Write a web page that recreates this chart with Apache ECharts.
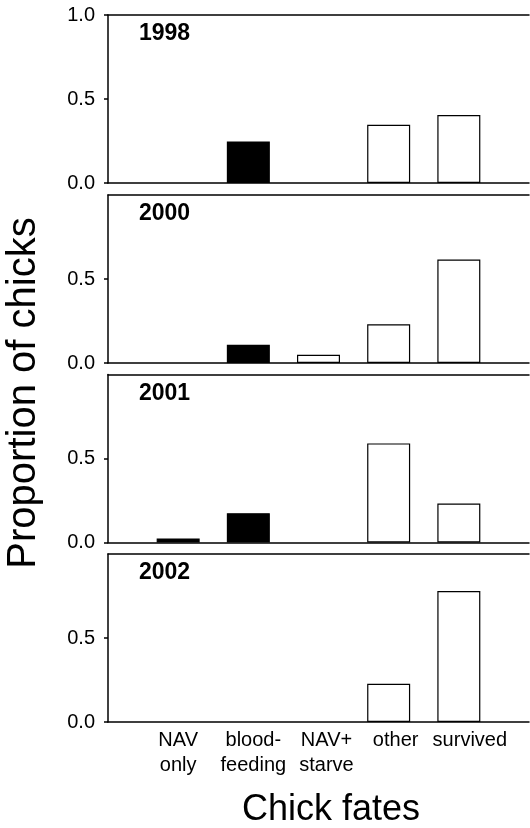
<!DOCTYPE html>
<html>
<head>
<meta charset="utf-8">
<script src="https://cdn.jsdelivr.net/npm/echarts@6/dist/echarts.min.js"></script>
<style>
html,body{margin:0;padding:0;background:#fff;}
#chart{width:530px;height:828px;}
</style>
</head>
<body>
<div id="chart"></div>
<script>
const categories = ['NAV\nonly', 'blood-\nfeeding', 'NAV+\nstarve', 'other', 'survived'];
const years = ['1998', '2000', '2001', '2002'];
const v1998 = [0, 0.247, 0, 0.346, 0.405];
const v2000 = [0, 0.109, 0.049, 0.231, 0.616];
const v2001 = [0.024, 0.174, 0, 0.59, 0.232];
const v2002 = [0, 0, 0, 0.228, 0.78];
const yTickValues = [0, 0.5, 1.0];
const xAxisTitle = 'Chick fates';
const yAxisTitle = 'Proportion of chicks';

const panelValues = [v1998, v2000, v2001, v2002];
const FONT = '"Liberation Sans", Arial, Helvetica, sans-serif';
const panelTops = [15, 195, 374.5, 554];
const panelH = 168;
const gridLeft = 108, gridRight = 1;
// small rightward nudges of the category labels, as in the original figure
const labelShift = [0, 5, 8, 7, 11];

const chart = echarts.init(document.getElementById('chart'), null, {renderer: 'canvas'});

const rich = {};
labelShift.forEach((s, k) => {
  rich['c' + k] = {fontFamily: FONT, fontSize: 20, lineHeight: 25, color: '#000', padding: [0, 0, 0, 2 * s]};
});

const grids = [], xAxes = [], yAxes = [], series = [], graphics = [];
panelValues.forEach((vals, i) => {
  grids.push({left: gridLeft, right: gridRight, top: panelTops[i], height: panelH,
    containLabel: false, outerBoundsMode: 'none'});
  const isBottom = i === panelValues.length - 1;
  xAxes.push({
    gridIndex: i, type: 'value', min: 0, max: categories.length + 1, interval: 1, position: 'bottom',
    axisLine: {show: true, onZero: false, lineStyle: {color: '#000', width: 1.5}},
    axisTick: {show: false}, splitLine: {show: false},
    axisLabel: {
      show: isBottom, color: '#000', fontFamily: FONT, fontSize: 20, lineHeight: 25, margin: 6,
      hideOverlap: false, showMinLabel: false, showMaxLabel: false,
      formatter: v => {
        if (v < 1 || v > categories.length) return '';
        const k = v - 1;
        return categories[k].split('\n').map(t => '{c' + k + '|' + t + '}').join('\n');
      },
      rich: rich
    }
  });
  xAxes.push({
    gridIndex: i, type: 'value', min: 0, max: categories.length + 1, position: 'top',
    axisLine: {show: true, onZero: false, lineStyle: {color: '#000', width: 1.5}},
    axisTick: {show: false}, splitLine: {show: false}, axisLabel: {show: false}
  });
  const shown = i === 0 ? yTickValues : yTickValues.filter(v => v < 1);
  yAxes.push({
    gridIndex: i, type: 'value', min: 0, max: 1, interval: 0.5,
    axisLine: {show: true, lineStyle: {color: '#000', width: 1.5}},
    axisTick: {show: true, inside: false, length: 4, customValues: shown, lineStyle: {color: '#000', width: 1.5}},
    splitLine: {show: false},
    axisLabel: {show: true, customValues: shown, color: '#000', fontFamily: FONT, fontSize: 20, margin: 13,
      formatter: v => v.toFixed(1)}
  });
  const data = [];
  vals.forEach((v, k) => {
    if (v > 0) {
      data.push({value: [k + 1, v], itemStyle: {color: k < 2 ? '#000' : '#fff', borderColor: '#000', borderWidth: 1.2}});
    }
  });
  series.push({
    type: 'bar', xAxisIndex: i * 2, yAxisIndex: i, barWidth: 43, data: data,
    silent: true, animation: false
  });
  graphics.push({
    type: 'text', x: 139, y: panelTops[i] + 19,
    style: {text: years[i], font: 'bold 23px ' + FONT, fill: '#000', align: 'left', verticalAlign: 'middle'}
  });
});

graphics.push({
  type: 'text', x: 331, y: 810,
  style: {text: xAxisTitle, font: '36px ' + FONT, fill: '#000', align: 'center', verticalAlign: 'middle'}
});
graphics.push({
  type: 'text', x: 24, y: 393, rotation: Math.PI / 2,
  style: {text: yAxisTitle, font: '40px ' + FONT, fill: '#000', align: 'center', verticalAlign: 'middle'}
});

chart.setOption({
  animation: false,
  backgroundColor: '#fff',
  grid: grids, xAxis: xAxes, yAxis: yAxes, series: series, graphic: graphics
});
</script>
</body>
</html>
